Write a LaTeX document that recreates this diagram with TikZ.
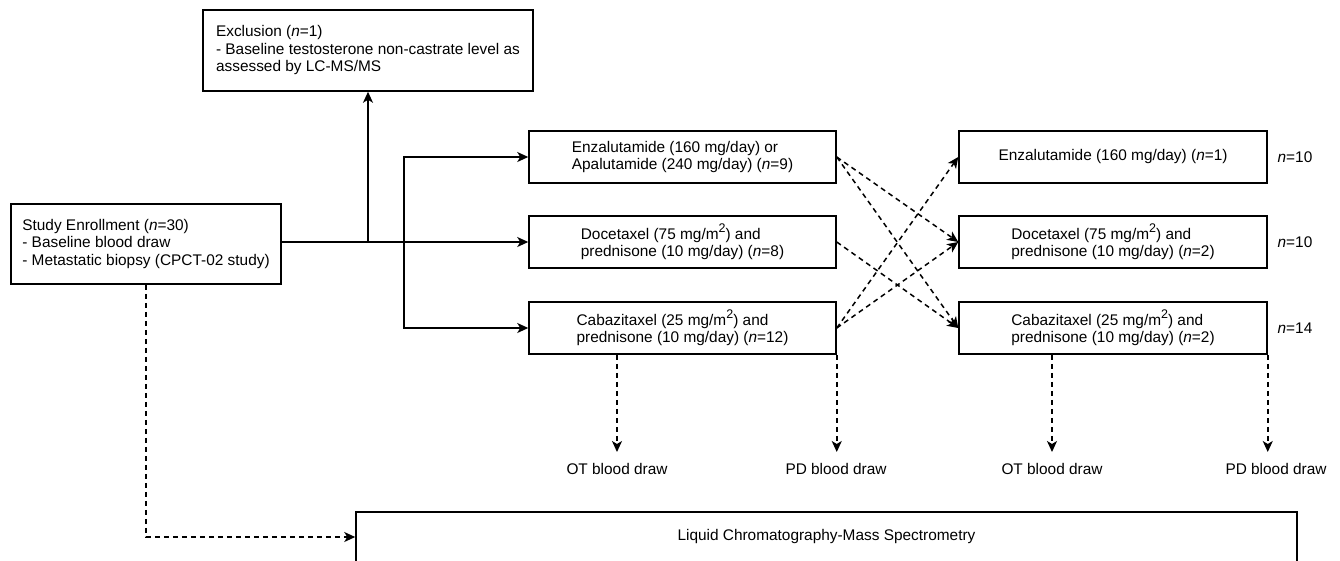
\documentclass[tikz,border=0pt]{standalone}
\usepackage{fontspec}
\setmainfont{Liberation Sans}
\usetikzlibrary{arrows.meta}
\newcommand{\diagfont}{\fontsize{15.4}{17.5}\selectfont}
\newcommand{\sqtwo}{\raisebox{.42em}{\fontsize{12.5}{12.5}\selectfont 2}}
\tikzset{
  stage/.style={draw, rectangle, line width=1.5pt, align=left,
                inner sep=3pt, font=\diagfont},
  arm/.style={stage, minimum width=307pt, minimum height=52pt},
  lbl/.style={inner sep=2pt, font=\diagfont},
  flow/.style={line width=1.5pt, -{Stealth[length=11pt,width=10pt,inset=3pt]}},
  switch/.style={flow, dash pattern=on 5pt off 4pt},
  blood/.style={switch, shorten >=9pt},
}

\begin{document}
\begin{tikzpicture}[x=1pt,y=-1pt]
  \useasboundingbox (0,0) rectangle (1340,560);
  % enrollment and exclusion
  \node[stage, minimum width=270pt, minimum height=80pt] (enrol) at (146,244)
    {Study Enrollment (\textit{n}=30)\\- Baseline blood draw\\- Metastatic biopsy (CPCT-02 study)};
  \node[stage, minimum width=330pt, minimum height=81pt] (excl) at (368,50.5)
    {Exclusion (\textit{n}=1)\\- Baseline testosterone non-castrate level as\\assessed by LC-MS/MS};
  % first treatment
  \node[arm] (m1) at (682.5,157) {Enzalutamide (160 mg/day) or\\Apalutamide (240 mg/day) (\textit{n}=9)};
  \node[arm] (m2) at (682.5,242) {Docetaxel (75 mg/m\sqtwo) and\\prednisone (10 mg/day) (\textit{n}=8)};
  \node[arm] (m3) at (682.5,328) {Cabazitaxel (25 mg/m\sqtwo) and\\prednisone (10 mg/day) (\textit{n}=12)};
  % second treatment
  \node[arm, minimum width=308pt, align=center] (r1) at (1113,157) {Enzalutamide (160 mg/day) (\textit{n}=1)};
  \node[arm, minimum width=308pt] (r2) at (1113,242) {Docetaxel (75 mg/m\sqtwo) and\\prednisone (10 mg/day) (\textit{n}=2)};
  \node[arm, minimum width=308pt] (r3) at (1113,328) {Cabazitaxel (25 mg/m\sqtwo) and\\prednisone (10 mg/day) (\textit{n}=2)};
  % totals
  \node[lbl] (n1) at (1295,157) {\textit{n}=10};
  \node[lbl] (n2) at (1295,242) {\textit{n}=10};
  \node[lbl] (n3) at (1295,328) {\textit{n}=14};
  % blood draws
  \node[lbl, anchor=north] (ot1) at (617,461)  {OT blood draw};
  \node[lbl, anchor=north] (pd1) at (836,461)  {PD blood draw};
  \node[lbl, anchor=north] (ot2) at (1052,461) {OT blood draw};
  \node[lbl, anchor=north] (pd2) at (1276,461) {PD blood draw};
  % mass spectrometry
  \node[stage, minimum width=941pt, minimum height=50pt, align=center] (lcms) at (826.5,537)
    {Liquid Chromatography-Mass Spectrometry};
  % edges
  \coordinate (split) at (404,242);
  \draw[flow] (enrol.east |- m2.west) -- (m2.west);
  \draw[flow] (excl.south |- m2.west) -- (excl.south);
  \draw[flow] (split) |- (m1.west);
  \draw[flow] (split) |- (m3.west);
  \draw[switch] (m1.east) -- (r2.west);
  \draw[switch] (m1.east) -- (r3.west);
  \draw[switch] (m2.east) -- (r3.west);
  \draw[switch] (m3.east) -- (r1.west);
  \draw[switch] (m3.east) -- (r2.west);
  \draw[blood] (ot1.north |- m3.south) -- (ot1.north);
  \draw[blood] (m3.south east) -- (m3.south east |- pd1.north);
  \draw[blood] (ot2.north |- r3.south) -- (ot2.north);
  \draw[blood] (r3.south east) -- (r3.south east |- pd2.north);
  \draw[switch] (enrol.south) |- (lcms.west);
\end{tikzpicture}
\end{document}
